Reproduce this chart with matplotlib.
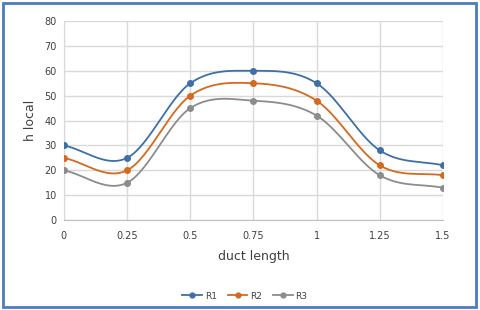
import numpy as np
import matplotlib
matplotlib.use("Agg")
import matplotlib.pyplot as plt
from matplotlib.patches import Rectangle

x = [0, 0.25, 0.5, 0.75, 1, 1.25, 1.5]
xlabels = ["0", "0.25", "0.5", "0.75", "1", "1.25", "1.5"]
r1 = [30, 25, 55, 60, 55, 28, 22]
r2 = [25, 20, 50, 55, 48, 22, 18]
r3 = [20, 15, 45, 48, 42, 18, 13]
names = ["R1", "R2", "R3"]
colors = ["#3E6FA6", "#D46A1E", "#8C8C8C"]


def smooth(xs, ys, n=30):
    xs = np.asarray(xs, float)
    ys = np.asarray(ys, float)
    px = np.concatenate([[2 * xs[0] - xs[1]], xs, [2 * xs[-1] - xs[-2]]])
    py = np.concatenate([[2 * ys[0] - ys[1]], ys, [2 * ys[-1] - ys[-2]]])
    ox, oy = [], []
    for i in range(1, len(px) - 2):
        t = np.linspace(0, 1, n, endpoint=False)
        for arr, out in ((px, ox), (py, oy)):
            p0, p1, p2, p3 = arr[i - 1], arr[i], arr[i + 1], arr[i + 2]
            m1 = (p2 - p0) / 2
            m2 = (p3 - p1) / 2
            h00 = 2 * t**3 - 3 * t**2 + 1
            h10 = t**3 - 2 * t**2 + t
            h01 = -2 * t**3 + 3 * t**2
            h11 = t**3 - t**2
            out.extend(h00 * p1 + h10 * m1 + h01 * p2 + h11 * m2)
    ox.append(xs[-1])
    oy.append(ys[-1])
    return np.array(ox), np.array(oy)


fig = plt.figure(figsize=(4.8, 3.1), dpi=100)
ax = fig.add_axes([0.133, 0.29, 0.79, 0.642])

for ys, name, c in zip([r1, r2, r3], names, colors):
    sx, sy = smooth(x, ys)
    ax.plot(sx, sy, color=c, lw=1.3, zorder=3)
    ax.plot(x, ys, "o", color=c, ms=4, zorder=4)
    ax.plot([], [], color=c, lw=1.3, marker="o", ms=3.5, label=name)

ax.set_xlim(0, 1.5)
ax.set_ylim(0, 80)
ax.set_xticks(x)
ax.set_xticklabels(xlabels)
ax.set_yticks(range(0, 81, 10))
ax.grid(True, color="#D9D9D9", lw=1)
ax.set_axisbelow(True)
for s in ["top", "right"]:
    ax.spines[s].set_visible(False)
ax.spines["left"].set_color("#D9D9D9")
ax.spines["bottom"].set_color("#BFBFBF")
ax.tick_params(axis="x", length=0, labelsize=7, colors="#404040", pad=8)
ax.tick_params(axis="y", length=0, labelsize=7, colors="#404040", pad=5)
ax.set_xlabel("duct length", fontsize=9, color="#404040", labelpad=6)
ax.set_ylabel("h local", fontsize=9, color="#404040", labelpad=10)
ax.yaxis.set_label_coords(-0.072, 0.5)

leg = fig.legend(loc="center", bbox_to_anchor=(0.51, 0.045), ncol=3, frameon=False,
                 fontsize=6.5, handlelength=2.2, columnspacing=1.2, handletextpad=0.3)
for t in leg.get_texts():
    t.set_color("#404040")

fig.patches.append(Rectangle((0.006, 0.01), 0.986, 0.98, transform=fig.transFigure,
                             fill=False, edgecolor="#4A7EBB", lw=2))

fig.savefig("out.png", dpi=100, facecolor="white")
